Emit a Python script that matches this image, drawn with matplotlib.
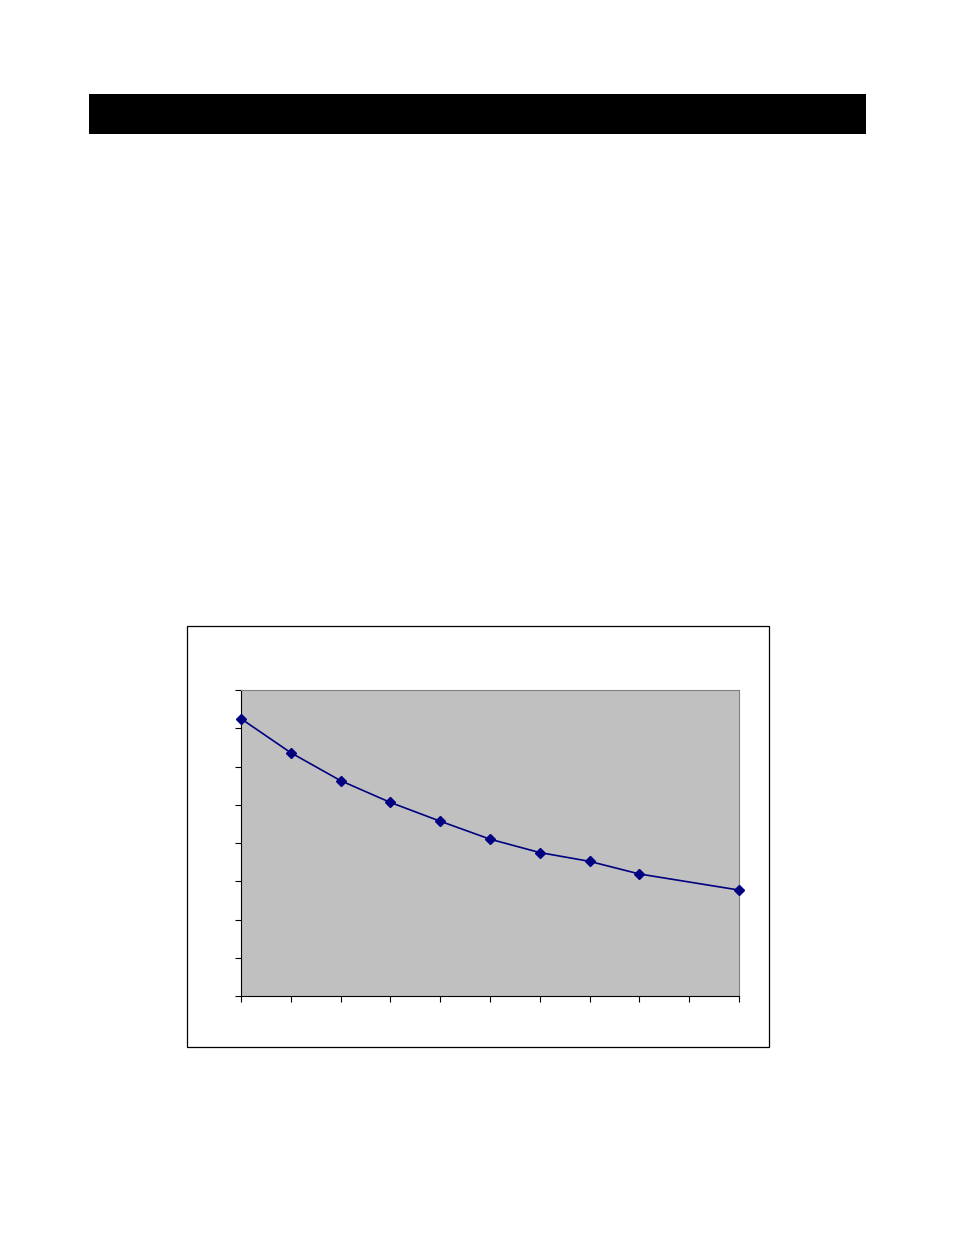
import matplotlib
matplotlib.use("Agg")
import matplotlib.pyplot as plt
from matplotlib.patches import Rectangle

# values (no labels are shown on the chart)
x_vals = [0, 1, 2, 3, 4, 5, 6, 7, 8, 10]
y_vals = [7.25, 6.36, 5.63, 5.06, 4.57, 4.10, 3.75, 3.52, 3.19, 2.77]

W, H = 954, 1247
fig = plt.figure(figsize=(W / 100, H / 100), dpi=100)

# black header bar
fig.patches.append(Rectangle((89 / W, 1 - 134 / H), (866 - 89) / W, 40 / H,
                             transform=fig.transFigure, facecolor="black",
                             edgecolor="none", zorder=0))

# chart frame
fig.patches.append(Rectangle((187 / W, 1 - 1047 / H), (769 - 187) / W, (1047 - 626) / H,
                             transform=fig.transFigure, facecolor="none",
                             edgecolor="black", linewidth=0.9, zorder=0))

ax = fig.add_axes([241 / W, 1 - 996 / H, (739 - 241) / W, (996 - 690) / H])
ax.set_zorder(2)
ax.set_facecolor("#c0c0c0")
ax.plot(x_vals, y_vals, color="#000080", linewidth=1.2, marker="D",
        markersize=5, markerfacecolor="#000080", markeredgecolor="#000080",
        clip_on=False, zorder=3)

ax.set_xlim(0, 10)
ax.set_ylim(0, 8)
ax.set_xticks(range(0, 11))
ax.set_yticks(range(0, 9))
ax.set_xticklabels([])
ax.set_yticklabels([])
ax.tick_params(direction="out", length=4, width=0.8, color="black")

for side in ["top", "right"]:
    ax.spines[side].set_color("#808080")
    ax.spines[side].set_linewidth(0.8)
for side in ["left", "bottom"]:
    ax.spines[side].set_color("black")
    ax.spines[side].set_linewidth(0.8)

fig.savefig("out.png", dpi=100)
